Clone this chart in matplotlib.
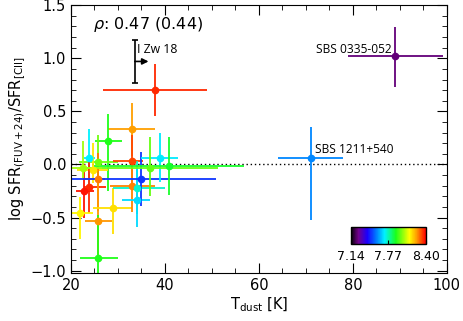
import numpy as np
import matplotlib
matplotlib.use("Agg")
from matplotlib import pyplot as plt
from matplotlib.colors import LinearSegmentedColormap, Normalize
from matplotlib.ticker import MultipleLocator

# dust temperature [K] with asymmetric errors
tdust = [37.9, 32.9, 27.8, 23.9, 25.8, 24.7, 25.8, 23.9, 22.8, 21.9, 25.8, 28.9,
         25.8, 32.9, 32.9, 34.0, 34.0, 34.9, 38.9, 36.8, 40.9, 22.6, 88.9, 71.0]
tdust_lo = [11.0, 5.0, 2.7, 1.1, 4.0, 3.5, 3.0, 1.2, 1.8, 2.7, 2.8, 4.2,
            3.9, 3.9, 4.6, 5.1, 3.2, 16.0, 3.9, 14.5, 16.0, 3.0, 9.9, 6.9]
tdust_hi = [11.0, 5.0, 3.0, 1.2, 4.2, 3.2, 1.5, 3.5, 2.0, 2.8, 2.9, 4.0,
            4.1, 2.5, 5.0, 6.0, 2.8, 16.0, 3.9, 14.5, 16.0, 4.0, 10.2, 7.0]
# log SFR(FUV+24)/SFR([CII])
ratio = [0.70, 0.33, 0.225, 0.065, 0.025, -0.05, -0.14, -0.21, -0.25, -0.46, -0.53, -0.41,
         -0.88, 0.03, -0.20, -0.22, -0.33, -0.14, 0.065, -0.03, -0.01, -0.03, 1.02, 0.06]
ratio_lo = [0.24, 0.25, 0.47, 0.25, 0.25, 0.12, 0.30, 0.25, 0.25, 0.24, 0.34, 0.24,
            0.40, 0.25, 0.25, 0.25, 0.26, 0.25, 0.23, 0.27, 0.28, 0.10, 0.29, 0.58]
ratio_hi = [0.25, 0.25, 0.25, 0.27, 0.25, 0.25, 0.25, 0.25, 0.25, 0.15, 0.38, 0.19,
            0.40, 0.25, 0.25, 0.25, 0.30, 0.26, 0.23, 0.29, 0.27, 0.25, 0.27, 0.29]
# metallicity 12+log(O/H), used for colour
metal = [8.36, 8.24, 7.90, 7.71, 7.98, 8.15, 8.28, 8.36, 8.38, 8.13, 8.25, 8.16,
         7.90, 8.33, 8.27, 7.75, 7.68, 7.48, 7.70, 7.97, 7.88, 8.03, 7.25, 7.58]

# I Zw 18: lower limit on Tdust
izw_t = 33.6
izw_r = 0.97
izw_err = 0.20

labels = {"SBS 0335-052": (88.3, 1.08, "right"), "SBS 1211+540": (71.9, 0.14, "left")}

zmin, zmax = 7.14, 8.40
cmap = LinearSegmentedColormap.from_list("idl_rainbow", [
    (0.0, (0, 0, 0)), (0.1, (0.45, 0, 0.55)), (0.22, (0.1, 0.0, 1.0)),
    (0.33, (0.0, 0.45, 1.0)), (0.45, (0.0, 0.95, 1.0)), (0.6, (0.1, 1.0, 0.1)),
    (0.78, (1.0, 1.0, 0.0)), (0.88, (1.0, 0.6, 0.0)), (1.0, (1.0, 0.0, 0.0))])
norm = Normalize(zmin, zmax)

plt.rcParams['font.family'] = ['DejaVu Sans']
fig = plt.figure(figsize=(4.64, 3.21), dpi=100)
ax = fig.add_axes([0.153, 0.150, 0.810, 0.834])

ax.axhline(0, color='black', ls=(0, (1, 2)), lw=1.0, zorder=1)

for i in range(len(tdust)):
    c = cmap(norm(metal[i]))
    ax.errorbar(tdust[i], ratio[i],
                xerr=[[tdust_lo[i]], [tdust_hi[i]]],
                yerr=[[ratio_lo[i]], [ratio_hi[i]]],
                fmt='o', color=c, ms=4.5, elinewidth=1.3, capsize=0, zorder=2)

ax.errorbar(izw_t, izw_r, yerr=izw_err, fmt='none', ecolor='black',
            elinewidth=1.2, capsize=2.5, capthick=1.2, zorder=3)
ax.annotate("", xy=(izw_t + 2.9, izw_r), xytext=(izw_t, izw_r),
            arrowprops=dict(arrowstyle='-|>', color='black', lw=1.2,
                            mutation_scale=9, shrinkA=0, shrinkB=0))
ax.text(izw_t + 0.4, 1.08, "I Zw 18", fontsize=8.8, family='Open Sans',
        va='center', ha='left')
for name, (x, y, ha) in labels.items():
    ax.text(x, y, name, fontsize=8.6, family='Open Sans', va='center', ha=ha)

ax.text(24.6, 1.32, r"$\rho$: 0.47 (0.44)", fontsize=11.5, va='center')

ax.set_xlim(20, 100)
ax.set_ylim(-1.02, 1.5)
ax.xaxis.set_major_locator(MultipleLocator(20))
ax.xaxis.set_minor_locator(MultipleLocator(5))
ax.yaxis.set_major_locator(MultipleLocator(0.5))
ax.yaxis.set_minor_locator(MultipleLocator(0.1))
ax.tick_params(which='both', direction='in', top=True, right=True, labelsize=10.5)
ax.tick_params(which='major', length=7)
ax.tick_params(which='minor', length=3.5)
ax.set_xlabel(r"T$_{\rm dust}$ [K]", fontsize=10.5, labelpad=2)
ax.set_ylabel(r"log SFR$_{\rm (FUV+24)}$/SFR$_{\rm [CII]}$", fontsize=10.5, labelpad=2)

cax = fig.add_axes([0.756, 0.239, 0.162, 0.055])
sm = plt.cm.ScalarMappable(norm=norm, cmap=cmap)
cb = fig.colorbar(sm, cax=cax, orientation='horizontal')
cb.set_ticks([7.14, 7.77, 8.40])
cb.set_ticklabels(["7.14", "7.77", "8.40"])
cax.tick_params(direction='in', length=3, labelsize=9, pad=4)
cb.outline.set_linewidth(1.0)

fig.savefig("out.png", dpi=100)
